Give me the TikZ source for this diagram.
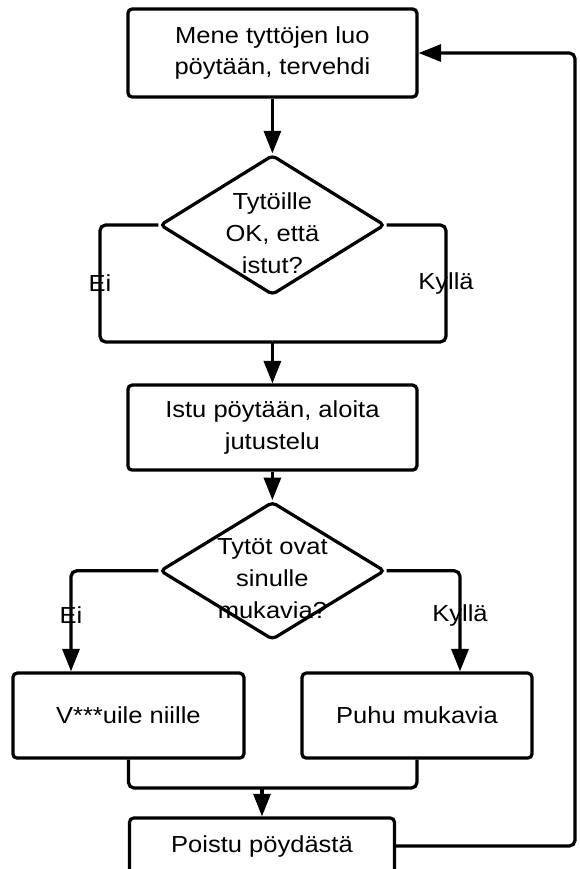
\documentclass[tikz,border=0pt]{standalone}
\usepackage{fontspec}
\setmainfont[FakeStretch=1.1]{Liberation Sans}
\usetikzlibrary{shapes.geometric,arrows.meta}

\begin{document}
\begin{tikzpicture}[
  box/.style={draw,line width=2.3pt,rounded corners=3pt,minimum width=7.225cm,minimum height=2.2cm,align=center,inner sep=0pt},
  decision/.style={draw,diamond,line width=2.3pt,rounded corners=3pt,minimum width=5.625cm,minimum height=3.5cm,inner sep=0pt},
  flow/.style={line width=2.3pt,rounded corners=4pt},
  arrow/.style={flow,-{Triangle[length=16pt,width=12pt]}},
  every node/.style={font=\fontsize{16.5}{22.75}\selectfont}
]
\useasboundingbox (0,0) rectangle (14.5,-21.725);

% Start box
\node[box] (greet) at (6.81,-1.325) {Mene tyttöjen luo\\pöytään, tervehdi};

% First question
\node[decision] (ok) at (6.81,-5.625) {};
\node[align=center] (okq) at (6.81,-5.825) {Tytöille\\OK, että\\istut?};

% Sit down
\node[box,minimum height=2.125cm] (sit) at (6.81,-10.69) {Istu pöytään, aloita\\jutustelu};

% Second question
\node[decision,minimum height=3.45cm] (nice) at (6.81,-14.27) {};
\node[align=center] (niceq) at (6.81,-14.47) {Tytöt ovat\\sinulle\\mukavia?};

% Outcome boxes
\node[box,minimum width=5.775cm,minimum height=2.125cm] (rude) at (3.21,-17.89) {V***uile niille};
\node[box,minimum width=5.75cm,minimum height=2.125cm] (talk) at (10.425,-17.89) {Puhu mukavia};

% Leave box
\node[box,minimum width=6.625cm,minimum height=1.4cm] (leave) at (6.55,-21.15) {Poistu pöydästä};

% Turning points
\coordinate (join1) at (6.81,-8.55);
\coordinate (eiturn) at (2.5,-8.55);
\coordinate (kyllaturn) at (11.15,-8.55);
\coordinate (rudetop) at ([xshift=-1.435cm]rude.north);
\coordinate (talktop) at ([xshift=1.075cm]talk.north);
\coordinate (join2) at (6.55,-19.7);
\coordinate (back) at (14.375,-1.325);

% Arrows
\draw[arrow] (greet) -- (ok);
\draw[flow] (ok.west) -| node[pos=0.75]{Ei} (eiturn) -- (join1);
\draw[flow] (ok.east) -| node[pos=0.75]{Kyllä} (kyllaturn) -- (join1);
\draw[arrow] (join1) -- (sit);
\draw[arrow] (sit) -- (nice);
\draw[arrow] (nice.west) -| node[pos=0.72]{Ei} (rudetop);
\draw[arrow] (nice.east) -| node[pos=0.72]{Kyllä} (talktop);
\draw[flow] (rude.south) |- (join2);
\draw[flow] (talk.south) |- (join2);
\draw[arrow] (join2) -- (leave);
\draw[arrow] (leave.east) -| (back) -- (greet.east);
\end{tikzpicture}
\end{document}
